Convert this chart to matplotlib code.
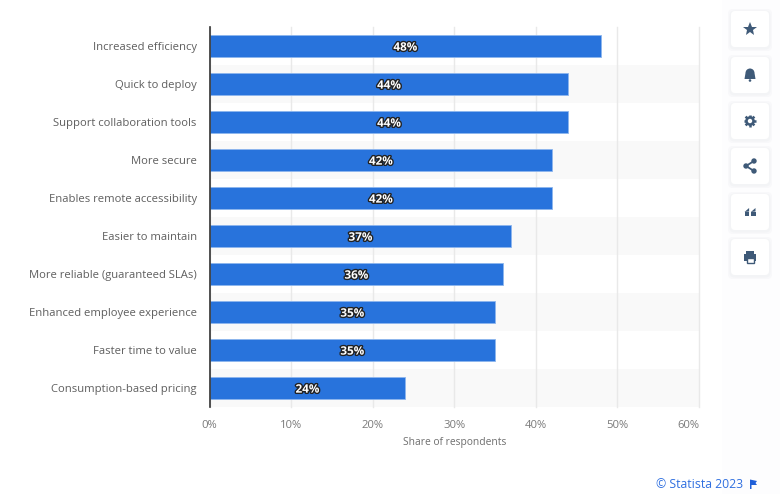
import matplotlib
matplotlib.use("Agg")
import matplotlib.pyplot as plt
import matplotlib.patheffects as pe
from matplotlib.patches import FancyBboxPatch, Rectangle, Circle, Polygon, Wedge

plt.rcParams["font.family"] = ["Open Sans", "DejaVu Sans"]

categories = [
    "Increased efficiency",
    "Quick to deploy",
    "Support collaboration tools",
    "More secure",
    "Enables remote accessibility",
    "Easier to maintain",
    "More reliable (guaranteed SLAs)",
    "Enhanced employee experience",
    "Faster time to value",
    "Consumption-based pricing",
]
shares = [48, 44, 44, 42, 42, 37, 36, 35, 35, 24]
ticks = [0, 10, 20, 30, 40, 50, 60]

W, H = 780, 494
BLUE = "#2873DC"
ICON = "#3F5A78"


def main():
    fig = plt.figure(figsize=(W / 100, H / 100), dpi=100)

    # page overlay in pixel coordinates, behind the chart
    page = fig.add_axes([0, 0, 1, 1], zorder=0)
    page.set_xlim(0, W)
    page.set_ylim(H, 0)
    page.axis("off")
    page.add_patch(Rectangle((722, 0), 58, H, color="#FDFDFE", lw=0))

    ax = fig.add_axes([209.5 / W, 1 - 407 / H, 489.5 / W, 380 / H], zorder=1)
    ax.patch.set_alpha(0)
    y = list(range(len(categories)))
    for i in y:
        if i % 2 == 1:
            ax.axhspan(i - 0.5, i + 0.5, color="#F9F9F9", lw=0, zorder=0)
    ax.barh(y, shares, height=0.57, color=BLUE, edgecolor="#8DB6EE", linewidth=0.6, zorder=3)
    for i, v in zip(y, shares):
        ax.text(
            v / 2, i + 0.03, f"{v}%", ha="center", va="center", color="white",
            fontsize=8.4, fontweight="bold", zorder=4,
            path_effects=[pe.withStroke(linewidth=2.0, foreground="#222222")],
        )

    ax.set_xlim(0, 60)
    ax.set_ylim(len(categories) - 0.5, -0.5)
    ax.set_yticks(y, categories)
    ax.set_xticks(ticks, [f"{t}%" for t in ticks])
    ax.get_xticklabels()[-1].set_ha("right")
    ax.grid(axis="x", color="#E9E9E9", linewidth=1, zorder=1)
    for line in ax.get_xgridlines():
        line.set_clip_on(False)
    ax.set_axisbelow(True)
    ax.tick_params(axis="y", length=0, pad=9.2, labelsize=8.15, labelcolor="#5F5F5F")
    ax.tick_params(axis="x", length=0, pad=9, labelsize=8.1, labelcolor="#7A7A7A")
    for name in ["top", "right", "bottom"]:
        ax.spines[name].set_visible(False)
    ax.spines["left"].set_color("#333333")
    ax.spines["left"].set_linewidth(1.2)
    ax.spines["left"].set_zorder(5)
    ax.set_xlabel("Share of respondents", fontsize=7.4, color="#6E6E6E", labelpad=5)

    # toolbar buttons and footer on top
    top = fig.add_axes([0, 0, 1, 1], zorder=2)
    top.set_xlim(0, W)
    top.set_ylim(H, 0)
    top.axis("off")
    centers = [29, 75, 121, 166, 212, 257]
    for cy in centers:
        for grow, col in [(3, "#F8F8FA"), (1.5, "#F3F4F6")]:
            top.add_patch(FancyBboxPatch((731 - grow, cy - 18 - grow + 1), 38 + 2 * grow, 36 + 2 * grow,
                                         boxstyle="round,pad=0,rounding_size=5", fc=col, ec="none"))
        top.add_patch(FancyBboxPatch((731, cy - 18), 38, 36, boxstyle="round,pad=0,rounding_size=4",
                                     fc="white", ec="none"))

    cx = 750
    # star
    top.plot([cx], [centers[0]], marker="*", ms=10.5, color=ICON, mew=0)
    # bell
    by = centers[1]
    top.add_patch(Wedge((cx, by - 2), 4.5, 180, 360, fc=ICON, ec="none"))
    top.add_patch(Polygon([[cx - 4.5, by - 2], [cx + 4.5, by - 2], [cx + 5.5, by + 4], [cx - 5.5, by + 4]],
                          fc=ICON, ec="none"))
    top.add_patch(Circle((cx, by + 5.5), 1.3, fc=ICON, ec="none"))
    # gear
    gy = centers[2]
    top.add_patch(Circle((cx, gy), 4.8, fc=ICON, ec="none"))
    for a, b in [((-6.2, 0), (6.2, 0)), ((0, -6.2), (0, 6.2)), ((-4.4, -4.4), (4.4, 4.4)), ((-4.4, 4.4), (4.4, -4.4))]:
        top.plot([cx + a[0], cx + b[0]], [gy + a[1], gy + b[1]], color=ICON, lw=1.8, solid_capstyle="butt")
    top.add_patch(Circle((cx, gy), 2.2, fc="white", ec="none", zorder=5))
    # share
    sy = centers[3]
    top.plot([cx + 4, cx - 4, cx + 4], [sy - 5, sy, sy + 5], color=ICON, lw=1.3)
    for px, py in [(cx + 4, sy - 5), (cx - 4, sy), (cx + 4, sy + 5)]:
        top.add_patch(Circle((px, py), 2.7, fc=ICON, ec="none"))
    # quote
    qy = centers[4]
    for qx in [cx - 3.2, cx + 3.2]:
        top.add_patch(Rectangle((qx - 2.3, qy - 0.5), 4.6, 4.5, fc=ICON, ec="none"))
        top.add_patch(Polygon([[qx - 2.3, qy], [qx + 2.3, qy - 4], [qx + 2.3, qy - 0.5]], fc=ICON, ec="none"))
    # print
    py = centers[5]
    top.add_patch(Rectangle((cx - 6, py - 3), 12, 7, fc=ICON, ec="none"))
    top.add_patch(Rectangle((cx - 4, py - 6), 8, 4, fc=ICON, ec="none"))
    top.add_patch(Rectangle((cx - 3.5, py + 1), 7, 5, fc="white", ec=ICON, lw=1))

    top.text(743, 484, "\u00a9 Statista 2023", ha="right", va="center", fontsize=8.8, color="#2F6FE0")
    top.add_patch(Polygon([[750, 479.5], [757, 481], [755.5, 483], [757, 485], [751.5, 485], [751.5, 489], [750, 489]],
                          fc="#1F5FD8", ec="none"))

    fig.savefig("out.png", dpi=100)


if __name__ == "__main__":
    main()
